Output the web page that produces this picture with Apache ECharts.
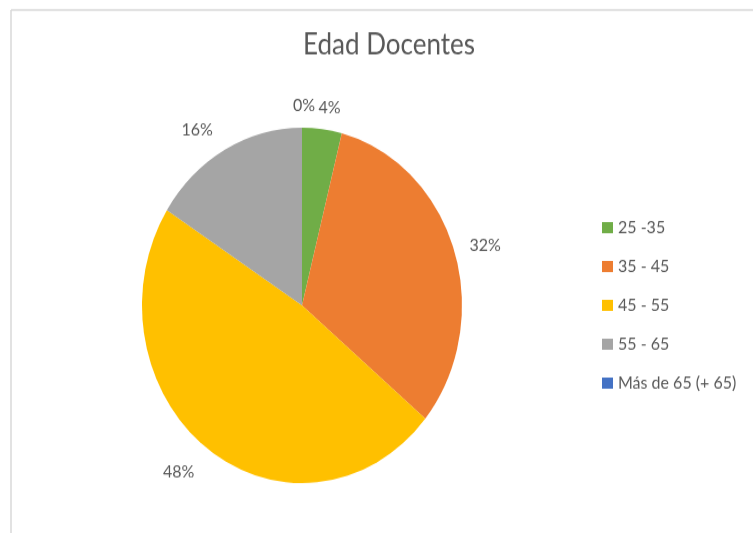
<!DOCTYPE html>
<html>
<head>
<meta charset="utf-8">
<title>Edad Docentes</title>
<script src="https://cdn.jsdelivr.net/npm/echarts@6/dist/echarts.min.js"></script>
<style>
	html, body { margin: 0; padding: 0; background: #fff; }
	#wrap { width: 753px; height: 533px; overflow: hidden; position: relative; }
	/* la imagen original esta estirada en vertical */
	#charts { width: 753px; height: 480px; transform: scaleY(1.1104); transform-origin: 0 0; }
</style>
</head>
<body>
<div id="wrap"><div id="charts"></div></div>
<script>
	// datos
	var categorias = ['25 -35', '35 - 45', '45 - 55', '55 - 65', 'Más de 65 (+ 65)'];
	var docentes = [1, 8, 12, 4, 0];
	var colores = ['#70ad47', '#ed7d31', '#ffc000', '#a5a5a5', '#4472c4'];
	// distancia de cada etiqueta al borde del pastel
	var distEtiqueta = [20, 15, 25, 21, 20];
	var ajusteEtiqueta = [-11, -4, -6, -3, -18];

	var fuente = 'Lato, "Open Sans", sans-serif';
	var gris = '#595959';

	var myChart = echarts.init(document.getElementById('charts'));

	var datos = [];
	for (var i = 0; i < categorias.length; i++) {
		datos.push({
			name: categorias[i],
			value: docentes[i],
			labelLine: { show: false, length: distEtiqueta[i], length2: ajusteEtiqueta[i] }
		});
	}

	var option = {
		animation: false,
		backgroundColor: '#fff',
		color: colores,
		title: {
			text: 'Edad Docentes',
			left: 384,
			top: 23,
			textAlign: 'center',
			textStyle: {
				color: gris,
				fontFamily: fuente,
				fontSize: 26,
				fontWeight: 'normal'
			}
		},
		legend: {
			orient: 'vertical',
			left: 597,
			top: 192,
			itemWidth: 11,
			itemHeight: 10,
			itemGap: 19,
			icon: 'rect',
			selectedMode: false,
			textStyle: { color: gris, fontFamily: fuente, fontSize: 16 },
			data: categorias
		},
		graphic: [
			{ type: 'line', shape: { x1: 11, y1: 9, x2: 11, y2: 480 }, style: { stroke: '#d9d9d9', lineWidth: 1.5 } },
			{ type: 'line', shape: { x1: 11, y1: 9, x2: 753, y2: 9 }, style: { stroke: '#d9d9d9', lineWidth: 1.5 } }
		],
		series: [
			{
				name: 'Edad Docentes',
				type: 'pie',
				radius: 160,
				center: [302, 275],
				startAngle: 90,
				clockwise: true,
				avoidLabelOverlap: false,
				label: {
					show: true,
					position: 'outside',
					formatter: '{d}%',
					color: gris,
					fontFamily: fuente,
					fontSize: 16,
					distanceToLabelLine: 5
				},
				labelLine: { show: false },
				itemStyle: { borderWidth: 0 },
				emphasis: { disabled: true },
				data: datos
			}
		]
	};

	myChart.setOption(option);
</script>
</body>
</html>
